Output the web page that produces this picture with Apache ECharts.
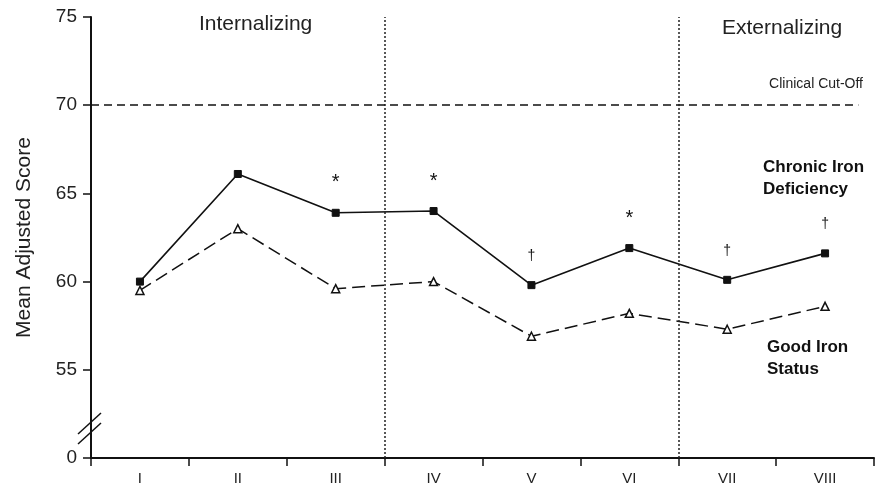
<!DOCTYPE html>
<html>
<head>
<meta charset="utf-8">
<script src="https://cdn.jsdelivr.net/npm/echarts@6/dist/echarts.min.js"></script>
<style>
  html, body { margin: 0; padding: 0; background: #ffffff; }
  #chart { width: 883px; height: 491px; }
</style>
</head>
<body>
<div id="chart"></div>
<script>
// ---- data ----
var categories = ['I', 'II', 'III', 'IV', 'V', 'VI', 'VII', 'VIII'];
var chronicIronDeficiency = [60.0, 66.1, 63.9, 64.0, 59.8, 61.9, 60.1, 61.6];
var goodIronStatus = [59.5, 63.0, 59.6, 60.0, 56.9, 58.2, 57.3, 58.6];
var significance = ['', '', '*', '*', '\u2020', '*', '\u2020', '\u2020'];
var yTickValues = [50, 55, 60, 65, 70, 75];
var yTickLabels = ['0', '55', '60', '65', '70', '75'];
var clinicalCutOff = 70;
var sectionDividers = [3, 6];      // boundaries between categories (in category units)
var cutOffLineEnd = 7.84;          // cut-off line stops short of the axis end (category units)
var axisBreakValue = 51.7;

var FONT = '"Liberation Sans", Arial, Helvetica, sans-serif';
var chart = echarts.init(document.getElementById('chart'), null, { renderer: 'canvas' });

var chronicData = chronicIronDeficiency.map(function (v, i) {
  var mark = significance[i];
  return {
    value: v,
    label: {
      show: !!mark,
      formatter: mark,
      position: 'top',
      distance: mark === '*' ? 16 : 18,
      fontSize: mark === '*' ? 20 : 14,
      fontFamily: FONT,
      color: '#111'
    }
  };
});

var option = {
  animation: false,
  backgroundColor: '#ffffff',
  grid: { left: 91, right: 9, top: 17, bottom: 33, containLabel: false },
  xAxis: [{
    type: 'category',
    data: categories,
    boundaryGap: true,
    axisLine: { show: true, lineStyle: { color: '#111', width: 2 } },
    axisTick: { show: true, alignWithLabel: false, length: 8, lineStyle: { color: '#111', width: 1.5 } },
    axisLabel: { color: '#222', fontSize: 15, fontFamily: FONT, margin: 13 },
    splitLine: { show: false }
  }, {
    type: 'value',
    min: 0,
    max: categories.length,
    show: false
  }],
  yAxis: {
    type: 'value',
    min: yTickValues[0],
    max: yTickValues[yTickValues.length - 1],
    interval: 5,
    name: 'Mean Adjusted Score',
    nameLocation: 'middle',
    nameGap: 56,
    nameTextStyle: { fontSize: 21, fontFamily: FONT, color: '#222' },
    axisLine: { show: true, lineStyle: { color: '#111', width: 2 } },
    axisTick: { show: true, length: 8, lineStyle: { color: '#111', width: 1.5 } },
    axisLabel: {
      color: '#222', fontSize: 19, fontFamily: FONT, margin: 14,
      formatter: function (v) {
        var idx = yTickValues.indexOf(v);
        return idx >= 0 ? yTickLabels[idx] : '';
      }
    },
    splitLine: { show: false }
  },
  series: [{
    name: 'Chronic Iron Deficiency',
    type: 'line',
    data: chronicData,
    symbol: 'rect',
    symbolSize: 7,
    itemStyle: { color: '#111', borderColor: '#111' },
    lineStyle: { color: '#111', width: 1.6, type: 'solid' },
    z: 4
  }, {
    name: 'Good Iron Status',
    type: 'line',
    data: goodIronStatus,
    symbol: 'triangle',
    symbolSize: 8,
    showAllSymbol: true,
    itemStyle: { color: '#ffffff', borderColor: '#111', borderWidth: 1.5 },
    lineStyle: { color: '#111', width: 1.5, type: [13, 6] },
    z: 3
  }, {
    name: 'guides',
    type: 'line',
    xAxisIndex: 1,
    data: [],
    silent: true,
    markLine: {
      silent: true,
      symbol: 'none',
      animation: false,
      label: { show: false },
      data: [
        { xAxis: sectionDividers[0], lineStyle: { type: [2, 2], width: 1.5, color: '#222' } },
        { xAxis: sectionDividers[1], lineStyle: { type: [2, 2], width: 1.5, color: '#222' } },
        [
          { coord: [0, clinicalCutOff], lineStyle: { type: [8, 5], width: 1.6, color: '#111' } },
          { coord: [cutOffLineEnd, clinicalCutOff] }
        ]
      ]
    }
  }],
  graphic: [
    { type: 'text', left: 199, top: 14, style: { text: 'Internalizing', font: '21px ' + FONT, fill: '#222' } },
    { type: 'text', left: 722, top: 18, style: { text: 'Externalizing', font: '21px ' + FONT, fill: '#222' } },
    { type: 'text', right: 20, top: 77, style: { text: 'Clinical Cut-Off', font: '14px ' + FONT, fill: '#222' } },
    { type: 'text', left: 763, top: 156, style: { text: 'Chronic Iron\nDeficiency', font: 'bold 17px ' + FONT, fill: '#111', lineHeight: 22 } },
    { type: 'text', left: 767, top: 336, style: { text: 'Good Iron\nStatus', font: 'bold 17px ' + FONT, fill: '#111', lineHeight: 22 } }
  ]
};

chart.setOption(option);

// axis-break marks on the y axis, positioned through the axis scale
var bp = chart.convertToPixel({ xAxisIndex: 1, yAxisIndex: 0 }, [0, axisBreakValue]);
chart.setOption({
  graphic: option.graphic.concat([
    { type: 'line', shape: { x1: bp[0] - 13, y1: bp[1] + 6, x2: bp[0] + 10, y2: bp[1] - 15 }, style: { stroke: '#111', lineWidth: 1.5 } },
    { type: 'line', shape: { x1: bp[0] - 13, y1: bp[1] + 16, x2: bp[0] + 10, y2: bp[1] - 5 }, style: { stroke: '#111', lineWidth: 1.5 } }
  ])
});
</script>
</body>
</html>
